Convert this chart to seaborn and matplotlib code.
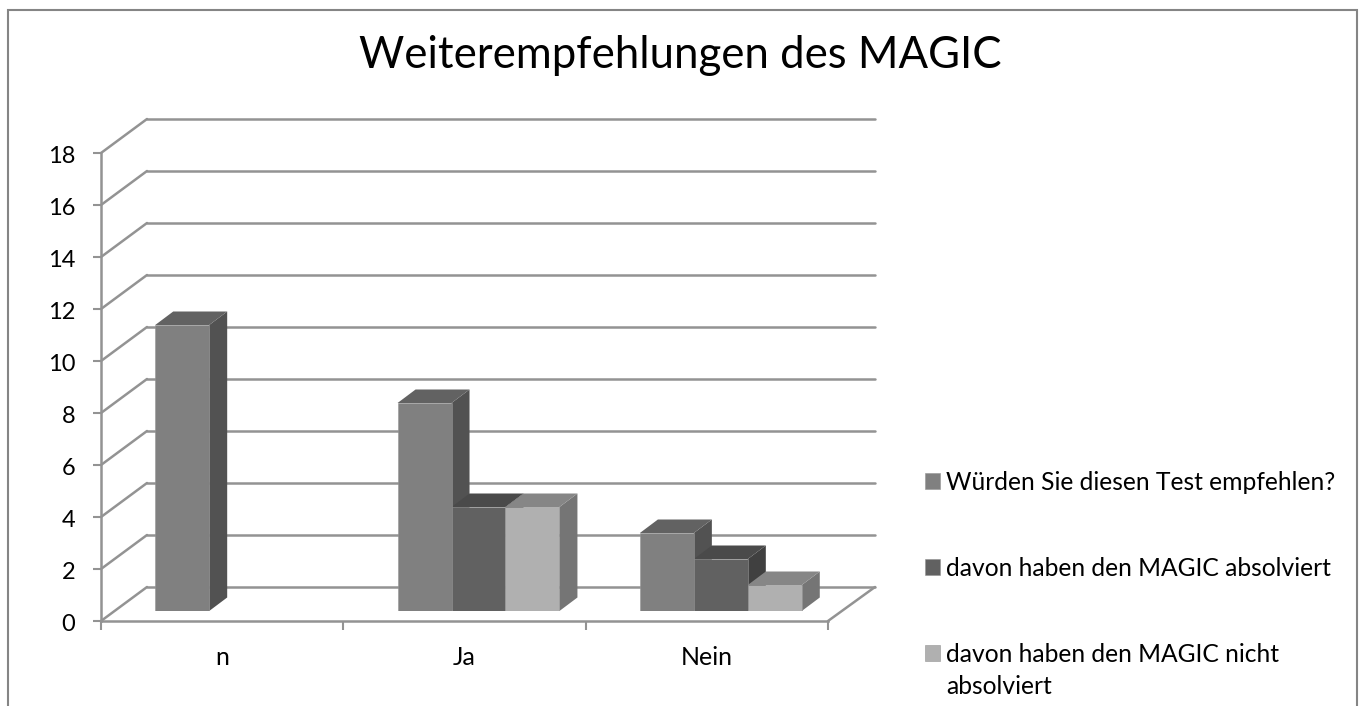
import matplotlib
matplotlib.use("Agg")
import matplotlib.pyplot as plt
from matplotlib.patches import ConnectionPatch, Polygon, Rectangle
from matplotlib.transforms import ScaledTranslation
import numpy as np
import pandas as pd
import seaborn as sns

# ---------- data ----------
categories = ["n", "Ja", "Nein"]
series_names = ["Würden Sie diesen Test empfehlen?",
                "davon haben den MAGIC absolviert",
                "davon haben den MAGIC nicht\nabsolviert"]
values_total = [11, 8, 3]
values_done = [np.nan, 4, 2]
values_not_done = [np.nan, 4, 1]
y_ticks = [0, 2, 4, 6, 8, 10, 12, 14, 16, 18]
title_text = "Weiterempfehlungen des MAGIC"

# ---------- style ----------
front_colors = ["#808080", "#616161", "#b0b0b0"]
side_colors = ["#525252", "#404040", "#757575"]
top_colors = ["#626262", "#4a4a4a", "#868686"]
line_color = "#939393"
W, H = 1362, 706
DPI = 100

sns.set_style("white")
plt.rcParams["font.family"] = ["Lato", "DejaVu Sans"]

fig = plt.figure(figsize=(W / DPI, H / DPI), dpi=DPI, facecolor="white")


def axes_px(left, right, top, bottom, zorder):
    ax = fig.add_axes([left / W, 1 - bottom / H, (right - left) / W, (bottom - top) / H],
                      zorder=zorder)
    ax.patch.set_alpha(0)
    ax.set_xlim(-0.5, len(categories) - 0.5)
    ax.set_ylim(y_ticks[0], y_ticks[-1])
    return ax


ax_back = axes_px(147, 875, 119, 587, 1)    # back wall
ax_front = axes_px(101, 828, 153, 621, 2)   # front plane with the axes
ax_bar = axes_px(115, 842, 143, 611, 3)     # plane of the bars

# chart frame (open at the lower image edge)
fig.add_artist(Rectangle((8 / W, -0.05), (1357 - 8) / W, 1.05 - 10 / H,
                         transform=fig.transFigure, fill=False,
                         edgecolor="#858585", linewidth=1.5))

# back wall grid
ax_back.set_xticks([])
ax_back.set_yticks(y_ticks)
ax_back.tick_params(left=False, labelleft=False)
ax_back.grid(axis="y", color=line_color, linewidth=1.8)
for gl in ax_back.get_ygridlines():
    gl.set_clip_on(False)
sns.despine(ax=ax_back, left=True, bottom=True, top=True, right=True)

# front axes
ax_front.set_yticks(y_ticks)
ax_front.set_yticklabels([str(v) for v in y_ticks], fontsize=17)
ax_front.set_xticks(range(len(categories)))
ax_front.set_xticklabels(categories, fontsize=18)
ax_front.set_xticks(np.arange(-0.5, len(categories)), minor=True)
ax_front.tick_params(axis="x", which="major", length=0, pad=18, labelcolor="black")
ax_front.tick_params(axis="x", which="minor", length=6.5, width=1.5, color=line_color,
                     direction="out", bottom=True)
ax_front.tick_params(axis="y", length=6, width=1.5, color=line_color, pad=12.5,
                     direction="out", left=True, labelcolor="black")
nudge = ScaledTranslation(0, -1.5 / DPI, fig.dpi_scale_trans)
for lab in ax_front.get_yticklabels():
    lab.set_transform(lab.get_transform() + nudge)
sns.despine(ax=ax_front, top=True, right=True)
for s in ("left", "bottom"):
    ax_front.spines[s].set_color(line_color)
    ax_front.spines[s].set_linewidth(1.8)

# diagonals joining the front axis to the back wall, and the floor's right edge
diag = [(-0.5, v) for v in y_ticks] + [(len(categories) - 0.5, 0)]
for xv, yv in diag:
    ax_front.add_artist(ConnectionPatch(xyA=(xv, yv), coordsA=ax_front.transData,
                                        xyB=(xv, yv), coordsB=ax_back.transData,
                                        color=line_color, linewidth=1.8, clip_on=False))

# bars
df = pd.DataFrame({
    "Kategorie": categories * 3,
    "Serie": np.repeat(series_names, len(categories)),
    "Wert": values_total + values_done + values_not_done,
})
sns.barplot(data=df, x="Kategorie", y="Wert", hue="Serie", order=categories,
            hue_order=series_names, palette=front_colors, width=0.668, gap=0,
            dodge=True, saturation=1, err_kws={"linewidth": 0}, ax=ax_bar,
            edgecolor="#949494", linewidth=0.4)
ax_bar.set_xlim(-0.5, len(categories) - 0.5)
ax_bar.set_ylim(y_ticks[0], y_ticks[-1])
ax_bar.set_xlabel("")
ax_bar.set_ylabel("")
ax_bar.set_xticks([])
ax_bar.set_yticks([])
sns.despine(ax=ax_bar, left=True, bottom=True, top=True, right=True)

# 3-D faces derived from each drawn bar
depth_x = 18 / (842 - 115) * len(categories)
depth_y = 13.5 / (611 - 143) * (y_ticks[-1] - y_ticks[0])
hex_front = [matplotlib.colors.to_rgb(c) for c in front_colors]
bars = [b for b in ax_bar.patches if b.get_height() > 0]
bars.sort(key=lambda b: b.get_x())
for i, b in enumerate(bars):
    idx = int(np.argmin([np.abs(np.array(b.get_facecolor()[:3]) - np.array(c)).sum()
                         for c in hex_front]))
    x0, x1, h = b.get_x(), b.get_x() + b.get_width(), b.get_height()
    ax_bar.add_patch(Polygon([(x1, 0), (x1 + depth_x, depth_y), (x1 + depth_x, h + depth_y), (x1, h)],
                             facecolor=side_colors[idx], edgecolor="none",
                             zorder=3 + i * 0.01, clip_on=False))
    ax_bar.add_patch(Polygon([(x0, h), (x0 + depth_x, h + depth_y), (x1 + depth_x, h + depth_y), (x1, h)],
                             facecolor=top_colors[idx], edgecolor="none",
                             zorder=3 + i * 0.01 + 0.005, clip_on=False))
    b.set_zorder(5)

# legend
handles, labels = ax_bar.get_legend_handles_labels()
ax_bar.get_legend().remove()
fs = 17.7
fs_px = fs * DPI / 72
leg = ax_bar.legend(handles, labels, loc="upper left",
                    bbox_to_anchor=(925 / W, 1 - 471 / H), bbox_transform=fig.transFigure,
                    frameon=False, fontsize=fs, borderpad=0, borderaxespad=0,
                    handlelength=15 / fs_px, handleheight=15 / fs_px,
                    handletextpad=6 / fs_px, labelspacing=2.56, labelcolor="black")
leg.set_zorder(10)
for t in leg.get_texts():
    t.set_linespacing(1.5)
# the swatch of the two-line entry sits beside its first line
swatch = leg.legend_handles[2]
swatch.set_y(swatch.get_y() + 13.5)

fig.text(680 / W, 1 - 55 / H, title_text, ha="center", va="center", fontsize=31.5, color="black")

fig.savefig("out.png", dpi=DPI, facecolor="white")
